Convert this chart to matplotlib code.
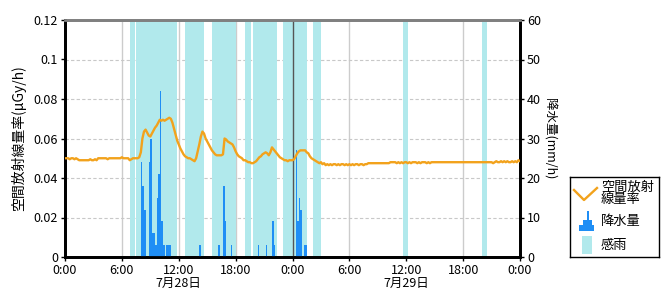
import numpy as np
import pandas as pd
import matplotlib
matplotlib.use('Agg')
import matplotlib.pyplot as plt
import matplotlib.dates as mdates
from matplotlib.patches import Rectangle

plt.rcParams['font.family'] = ['Noto Sans CJK JP', 'DejaVu Sans']

# 10-minute air dose rate (uGy/h), 7/28 0:00 .. 7/30 0:00, one row per hour
rate = [
    .0500, .0500, .0500, .0495, .0500, .0500,
    .0495, .0500, .0495, .0490, .0490, .0490,
    .0490, .0490, .0490, .0490, .0495, .0490,
    .0490, .0495, .0490, .0500, .0500, .0500,
    .0500, .0500, .0500, .0495, .0500, .0500,
    .0500, .0500, .0500, .0500, .0500, .0500,
    .0505, .0500, .0500, .0500, .0500, .0490,
    .0495, .0500, .0500, .0500, .0500, .0505,
    .0530, .0600, .0635, .0645, .0630, .0615,
    .0610, .0625, .0640, .0655, .0665, .0680,
    .0695, .0690, .0695, .0690, .0695, .0700,
    .0705, .0700, .0680, .0650, .0620, .0590,
    .0570, .0550, .0535, .0520, .0510, .0505,
    .0500, .0500, .0495, .0490, .0485, .0500,
    .0535, .0570, .0610, .0635, .0625, .0600,
    .0585, .0570, .0555, .0540, .0530, .0520,
    .0515, .0515, .0515, .0515, .0520, .0600,
    .0595, .0585, .0580, .0575, .0570, .0555,
    .0535, .0520, .0510, .0505, .0500, .0490,
    .0490, .0485, .0480, .0480, .0475, .0475,
    .0480, .0485, .0495, .0505, .0510, .0520,
    .0525, .0530, .0525, .0515, .0530, .0555,
    .0545, .0535, .0525, .0515, .0505, .0500,
    .0495, .0490, .0490, .0485, .0490, .0490,
    .0490, .0495, .0510, .0525, .0535, .0540,
    .0540, .0540, .0540, .0530, .0525, .0510,
    .0500, .0495, .0490, .0485, .0480, .0475,
    .0480, .0470, .0475, .0465, .0470, .0465,
    .0470, .0465, .0470, .0470, .0465, .0470,
    .0465, .0470, .0470, .0465, .0470, .0465,
    .0470, .0465, .0470, .0465, .0470, .0470,
    .0465, .0470, .0470, .0465, .0470, .0470,
    .0475, .0475, .0475, .0475, .0475, .0475,
    .0475, .0475, .0475, .0475, .0475, .0475,
    .0475, .0475, .0480, .0480, .0480, .0480,
    .0475, .0480, .0475, .0480, .0475, .0480,
    .0480, .0475, .0480, .0475, .0480, .0480,
    .0480, .0475, .0480, .0475, .0480, .0480,
    .0480, .0475, .0480, .0475, .0480, .0480,
    .0480, .0480, .0480, .0480, .0480, .0480,
    .0480, .0480, .0480, .0480, .0480, .0480,
    .0480, .0480, .0480, .0480, .0480, .0480,
    .0480, .0480, .0480, .0480, .0480, .0480,
    .0480, .0480, .0480, .0480, .0480, .0480,
    .0480, .0480, .0480, .0480, .0480, .0480,
    .0480, .0475, .0480, .0485, .0480, .0480,
    .0485, .0480, .0485, .0480, .0485, .0480,
    .0480, .0485, .0480, .0485, .0480, .0490,
    .0485,
]

# precipitation (mm/h) per 10-minute slot
rain_times = [
    '07-28 08:00', '07-28 08:10', '07-28 08:20', '07-28 08:50', '07-28 09:00',
    '07-28 09:10', '07-28 09:20', '07-28 09:30', '07-28 09:40', '07-28 09:50',
    '07-28 10:00', '07-28 10:10', '07-28 10:20', '07-28 10:40', '07-28 10:50',
    '07-28 11:00', '07-28 14:10', '07-28 16:10', '07-28 16:40', '07-28 16:50',
    '07-28 17:30', '07-28 20:20', '07-28 21:10', '07-28 21:50', '07-28 22:00',
    '07-29 00:20', '07-29 00:30', '07-29 00:40', '07-29 00:50', '07-29 01:10',
    '07-29 01:20',
]
rain = [24, 18, 12, 24, 30, 6, 6, 3, 15, 21, 42, 9, 3, 3, 3, 3, 3, 3, 18, 9,
        3, 3, 3, 9, 3, 27, 9, 15, 12, 3, 3]

# rain sensor on (感雨) periods
sense_start = ['07-28 06:50', '07-28 07:30', '07-28 12:40', '07-28 15:30',
               '07-28 19:00', '07-28 19:50', '07-28 23:00', '07-29 02:10',
               '07-29 11:40', '07-29 20:00']
sense_end = ['07-28 07:20', '07-28 11:50', '07-28 14:40', '07-28 18:00',
             '07-28 19:40', '07-28 22:20', '07-29 01:30', '07-29 03:00',
             '07-29 12:10', '07-29 20:30']

tick_labels = ['0:00', '6:00', '12:00\n7月28日', '18:00', '0:00',
               '6:00', '12:00\n7月29日', '18:00', '0:00']

YEAR = '2011-'
ORANGE = '#f2a21c'
BLUE = '#1f8ef5'
CYAN = '#b1e9ec'


def to_num(s):
    return mdates.date2num(pd.Timestamp(YEAR + s))


t0 = pd.Timestamp(YEAR + '07-28 00:00')
rate_x = mdates.date2num(pd.date_range(t0, periods=len(rate), freq='10min'))
rain_x = [to_num(s) for s in rain_times]
x0 = mdates.date2num(t0)
x1 = x0 + 2

fig = plt.figure(figsize=(6.7, 3.0), dpi=100)
ax_rain = fig.add_axes([65 / 670, 43 / 300, 455 / 670, 237 / 300])
ax_rate = ax_rain.twinx()

# background: grid + rain-sense bands
ax_rain.set_axisbelow(True)
ax_rain.grid(axis='y', color='#c8c8c8', ls=(0, (3, 2)), lw=0.8)
xticks = [x0 + i * 0.25 for i in range(9)]
for i, xt in enumerate(xticks[1:-1]):
    if i == 3:
        continue
    ax_rain.axvline(xt, color='#cccccc', lw=1, zorder=0.5)
for s, e in zip(sense_start, sense_end):
    ax_rain.axvspan(to_num(s), to_num(e), color=CYAN, lw=0, zorder=1)
ax_rain.axvline(x0 + 1, color='#555555', lw=1, zorder=4)

ax_rain.bar(rain_x, rain, width=1 / 144, align='edge', color=BLUE,
            lw=0, zorder=3)
ax_rate.plot(rate_x, rate, color=ORANGE, lw=1.7, zorder=5)

ax_rain.set_xlim(x0, x1)
ax_rain.set_ylim(0, 60)
ax_rate.set_ylim(0, 0.12)
ax_rain.set_xticks(xticks)
ax_rain.set_xticklabels(tick_labels, linespacing=0.95)

ax_rain.yaxis.tick_right()
ax_rain.yaxis.set_label_position('right')
ax_rain.set_yticks(range(0, 61, 10))
ax_rate.yaxis.tick_left()
ax_rate.yaxis.set_label_position('left')
ax_rate.set_yticks([0, 0.02, 0.04, 0.06, 0.08, 0.1, 0.12])
ax_rate.set_yticklabels(['0', '0.02', '0.04', '0.06', '0.08', '0.1', '0.12'])

for a in (ax_rain, ax_rate):
    a.tick_params(labelsize=9, length=3, width=1, pad=2, colors='black')
    for side in ('left', 'right', 'bottom'):
        a.spines[side].set_linewidth(2)
        a.spines[side].set_color('black')
    a.spines['top'].set_linewidth(2)
    a.spines['top'].set_color('#808080')

ax_rate.set_ylabel('空間放射線量率(μGy/h)', fontsize=10)
ax_rate.yaxis.set_label_coords(-0.085, 0.5)
ax_rain.set_ylabel('降水量(mm/h)', fontsize=9, rotation=270, va='center')
ax_rain.yaxis.set_label_coords(1.063, 0.5)

# legend box drawn in pixel units
lg = fig.add_axes([570 / 670, 43 / 300, 89 / 670, 80 / 300])
lg.set_xlim(0, 89)
lg.set_ylim(80, 0)
lg.set_xticks([])
lg.set_yticks([])
for sp in lg.spines.values():
    sp.set_linewidth(1)
    sp.set_color('black')
lg.plot([4, 14, 27], [13, 23, 11], color=ORANGE, lw=1.7)
lg.text(31, 16.5, '空間放射\n線量率', fontsize=9.5, va='center', linespacing=0.95)
lg.add_patch(Rectangle((16.5, 34), 2.5, 20, color=BLUE, lw=0))
lg.add_patch(Rectangle((13.3, 43), 8.4, 11, color=BLUE, lw=0))
lg.add_patch(Rectangle((9, 48), 15, 6, color=BLUE, lw=0))
lg.text(31, 44, '降水量', fontsize=9.5, va='center')
lg.add_patch(Rectangle((11.7, 59), 10, 18, color=CYAN, lw=0))
lg.text(31, 68, '感雨', fontsize=9.5, va='center')

fig.savefig('out.png', dpi=100)
